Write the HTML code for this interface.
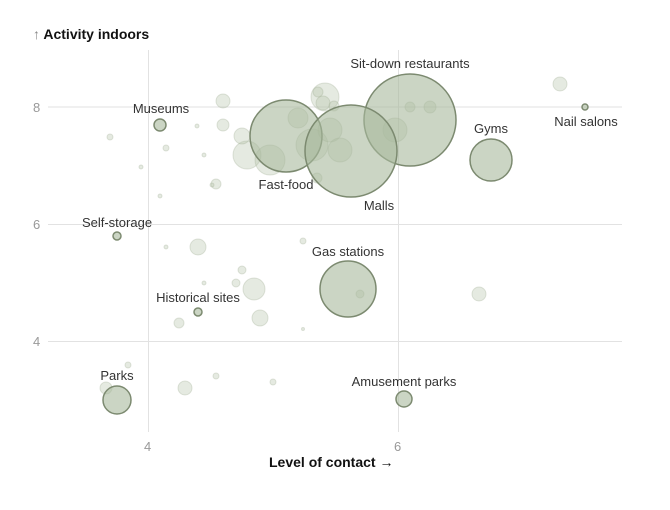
<!DOCTYPE html><html><head><style>body{margin:0;background:#fff}svg{font-family:"Liberation Sans",sans-serif}</style></head><body>
<svg width="670" height="505" viewBox="0 0 670 505">
<g stroke="#e2e2e2" stroke-width="1">
<line x1="48" y1="107" x2="622" y2="107"/><line x1="48" y1="224.5" x2="622" y2="224.5"/><line x1="48" y1="341.5" x2="622" y2="341.5"/>
<line x1="148.5" y1="50" x2="148.5" y2="432"/><line x1="398.5" y1="50" x2="398.5" y2="432"/>
</g>
<g fill="#999" font-size="13"><text x="33" y="112">8</text><text x="33" y="229">6</text><text x="33" y="346">4</text><text x="144" y="451">4</text><text x="394" y="451">6</text></g>
<text x="33" y="39" font-size="14" font-weight="bold" fill="#111"><tspan font-weight="normal" fill="#888">↑</tspan> Activity indoors</text>
<text x="269" y="467" font-size="14" font-weight="bold" fill="#111">Level of contact <tspan font-weight="normal">→</tspan></text>
<g fill="#b5c4a8" fill-opacity="0.35" stroke="#9aa890" stroke-opacity="0.3">
<circle cx="223" cy="101" r="7"/><circle cx="223" cy="125" r="6"/><circle cx="110" cy="137" r="3"/><circle cx="166" cy="148" r="3"/><circle cx="141" cy="167" r="2"/><circle cx="216" cy="184" r="5"/><circle cx="160" cy="196" r="2"/><circle cx="247" cy="155" r="14"/><circle cx="270" cy="160" r="15"/><circle cx="325" cy="97" r="14"/><circle cx="318" cy="92" r="5"/><circle cx="323" cy="103" r="7"/><circle cx="334" cy="106" r="5"/><circle cx="312" cy="145" r="16"/><circle cx="330" cy="130" r="12"/><circle cx="298" cy="118" r="10"/><circle cx="340" cy="150" r="12"/><circle cx="395" cy="130" r="12"/><circle cx="430" cy="107" r="6"/><circle cx="410" cy="107" r="5"/><circle cx="560" cy="84" r="7"/><circle cx="197" cy="126" r="2"/><circle cx="204" cy="155" r="2"/><circle cx="242" cy="136" r="8"/><circle cx="317" cy="178" r="5"/><circle cx="212" cy="185" r="2"/>
<circle cx="198" cy="247" r="8"/><circle cx="254" cy="289" r="11"/><circle cx="242" cy="270" r="4"/><circle cx="236" cy="283" r="4"/><circle cx="204" cy="283" r="2"/><circle cx="166" cy="247" r="2"/><circle cx="260" cy="318" r="8"/><circle cx="179" cy="323" r="5"/><circle cx="303" cy="241" r="3"/><circle cx="303" cy="329" r="1.5"/><circle cx="360" cy="294" r="4"/><circle cx="479" cy="294" r="7"/><circle cx="185" cy="388" r="7"/><circle cx="216" cy="376" r="3"/><circle cx="273" cy="382" r="3"/><circle cx="128" cy="365" r="3"/><circle cx="106" cy="388" r="6"/>
</g>
<g fill="#a9b99c" fill-opacity="0.6" stroke="#7c8a70" stroke-width="1.5">
<circle cx="160" cy="125" r="6"/><circle cx="117" cy="236" r="4"/><circle cx="198" cy="312" r="4"/><circle cx="117" cy="400" r="14"/><circle cx="348" cy="289" r="28"/><circle cx="404" cy="399" r="8"/><circle cx="286" cy="136" r="36"/><circle cx="410" cy="120" r="46"/><circle cx="351" cy="151" r="46"/><circle cx="491" cy="160" r="21"/><circle cx="585" cy="107" r="3"/>
</g>
<g font-size="13" fill="#333" text-anchor="middle">
<text x="161" y="113">Museums</text><text x="117" y="227">Self-storage</text><text x="198" y="302">Historical sites</text><text x="117" y="380">Parks</text><text x="348" y="256">Gas stations</text><text x="404" y="386">Amusement parks</text><text x="286" y="189">Fast-food</text><text x="410" y="68">Sit-down restaurants</text><text x="379" y="210">Malls</text><text x="491" y="133">Gyms</text><text x="586" y="126">Nail salons</text>
</g>
</svg></body></html>
